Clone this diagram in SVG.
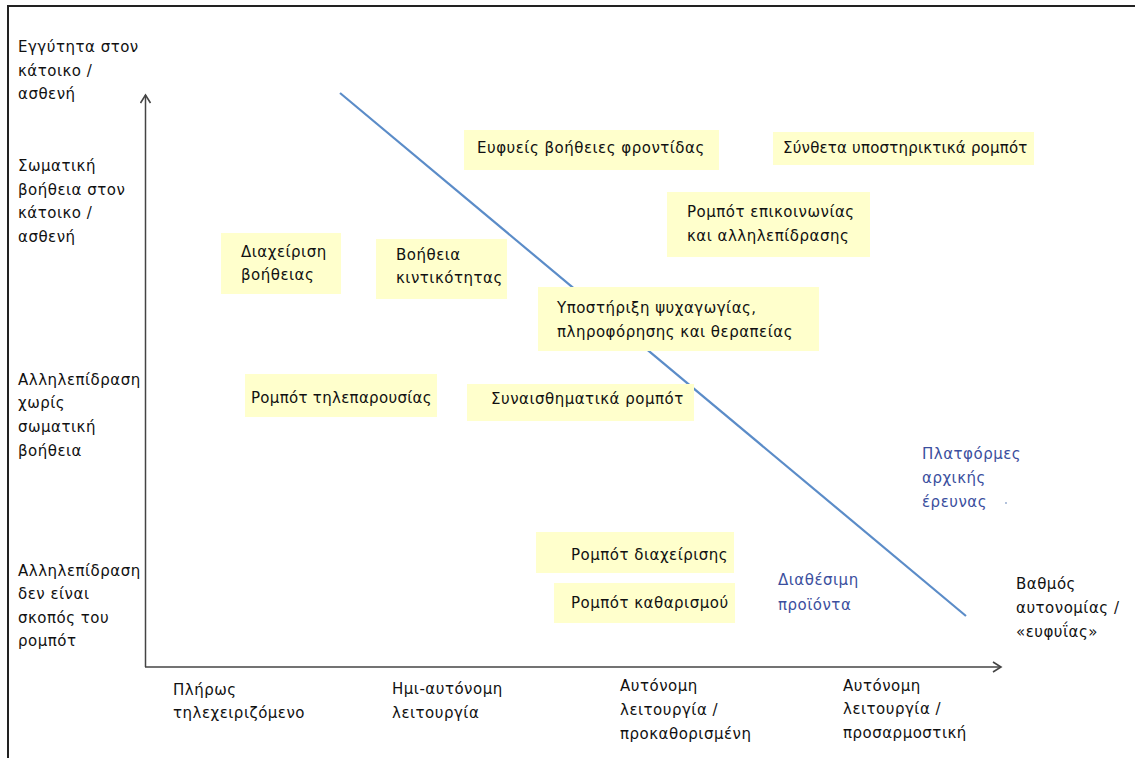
<svg xmlns="http://www.w3.org/2000/svg" width="1135" height="758" viewBox="0 0 1135 758">
<style>
text{font-family:"DejaVu Sans","Liberation Sans",sans-serif;font-size:15px;fill:#111;letter-spacing:0.5px}
.b{fill:#3b4f9e}
.box{fill:#ffffcc}
.ax{stroke:#444;stroke-width:1.5;fill:none}
</style>
<defs>
<marker id="arr" viewBox="0 0 12 12" refX="10" refY="6" markerWidth="12" markerHeight="12" markerUnits="userSpaceOnUse" orient="auto">
<path d="M2,1 L10,6 L2,11" fill="none" stroke="#444" stroke-width="1.6"/>
</marker>
</defs>
<rect width="1135" height="758" fill="#fff"/>
<path d="M8,760 V6 H1137" fill="none" stroke="#222" stroke-width="2"/>
<g id="axes">
<line class="ax" x1="145.5" y1="667" x2="145.5" y2="95" marker-end="url(#arr)"/>
<line class="ax" x1="145" y1="667" x2="1001" y2="667" marker-end="url(#arr)"/>
</g>
<g id="connectors">
<line x1="340" y1="93" x2="966" y2="616" stroke="#5b8cc8" stroke-width="2.2"/>
</g>
<g id="y-labels">
<text x="18" y="52">Εγγύτητα στον</text><text x="18" y="76">κάτοικο /</text><text x="18" y="99">ασθενή</text>
<text x="18" y="171">Σωματική</text><text x="18" y="195">βοήθεια στον</text><text x="18" y="218">κάτοικο /</text><text x="18" y="242">ασθενή</text>
<text x="18" y="385">Αλληλεπίδραση</text><text x="18" y="408">χωρίς</text><text x="18" y="432">σωματική</text><text x="18" y="456">βοήθεια</text>
<text x="18" y="576">Αλληλεπίδραση</text><text x="18" y="599">δεν είναι</text><text x="18" y="623">σκοπός του</text><text x="18" y="646">ρομπότ</text>
</g>
<g id="x-labels">
<text x="173" y="695">Πλήρως</text><text x="173" y="718">τηλεχειριζόμενο</text>
<text x="392" y="694">Ημι-αυτόνομη</text><text x="392" y="718">λειτουργία</text>
<text x="620" y="691">Αυτόνομη</text><text x="620" y="715">λειτουργία /</text><text x="620" y="739">προκαθορισμένη</text>
<text x="843" y="691">Αυτόνομη</text><text x="843" y="714">λειτουργία /</text><text x="843" y="738">προσαρμοστική</text>
<text x="1016" y="589">Βαθμός</text><text x="1016" y="613">αυτονομίας /</text><text x="1016" y="637">«ευφυΐας»</text>
</g>
<g id="n-diaxeirisi-voitheias"><rect class="box" x="221" y="233" width="120" height="61"/><text x="241" y="257">Διαχείριση</text><text x="241" y="280">βοήθειας</text></g>
<g id="n-voitheia-kinitikotitas"><rect class="box" x="376" y="239" width="131" height="60"/><text x="396" y="260">Βοήθεια</text><text x="396" y="283">κιντικότητας</text></g>
<g id="n-tileparousia"><rect class="box" x="245" y="374" width="192" height="43"/><text x="251" y="403" style="letter-spacing:0.3px">Ρομπότ τηλεπαρουσίας</text></g>
<g id="n-synaisthimatika"><rect class="box" x="467" y="384" width="227" height="37"/><text x="491" y="404">Συναισθηματικά ρομπότ</text></g>
<g id="n-diaxeirisis"><rect class="box" x="536" y="532" width="198" height="41"/><text x="571" y="560">Ρομπότ διαχείρισης</text></g>
<g id="n-katharismou"><rect class="box" x="554" y="583" width="181" height="40"/><text x="571" y="608">Ρομπότ καθαρισμού</text></g>
<g id="n-eyfyeis"><rect class="box" x="464" y="130" width="255" height="40"/><text x="477" y="153">Ευφυείς βοήθειες φροντίδας</text></g>
<g id="n-syntheta"><rect class="box" x="773" y="132" width="261" height="33"/><text x="783" y="153" style="letter-spacing:0.2px">Σύνθετα υποστηρικτικά ρομπότ</text></g>
<g id="n-epikoinonias"><rect class="box" x="667" y="192" width="203" height="65"/><text x="687" y="217">Ρομπότ επικοινωνίας</text><text x="687" y="241">και αλληλεπίδρασης</text></g>
<g id="n-psyxagogias"><rect class="box" x="538" y="287" width="281" height="64"/><text x="557" y="313">Υποστήριξη ψυχαγωγίας,</text><text x="557" y="337">πληροφόρησης και θεραπείας</text></g>
<g id="n-platformes"><text class="b" x="922" y="459">Πλατφόρμες</text><text class="b" x="922" y="483">αρχικής</text><text class="b" x="922" y="507">έρευνας</text><circle cx="1006" cy="503" r="1" fill="#9aaed0"/></g>
<g id="n-diathesima"><text class="b" x="778" y="585">Διαθέσιμη</text><text class="b" x="778" y="610">προϊόντα</text></g>
</svg>
